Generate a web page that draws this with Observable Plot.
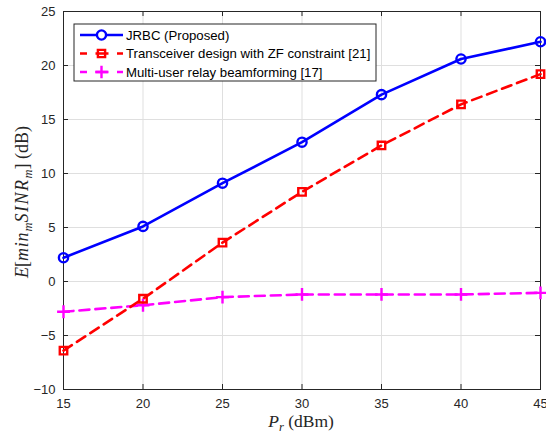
<!DOCTYPE html>
<html>
<head>
<meta charset="utf-8">
<script src="https://cdn.jsdelivr.net/npm/d3@7"></script>
<script src="https://cdn.jsdelivr.net/npm/@observablehq/plot@0.6"></script>
<style>
  html, body { margin: 0; padding: 0; background: #fff; }
  #chart svg { display: block; }
</style>
</head>
<body>
<div id="chart"></div>
<script>
const powers = [15, 20, 25, 30, 35, 40, 45];
const jrbc = [2.2, 5.1, 9.1, 12.9, 17.3, 20.6, 22.2];
const zfDesign = [-6.4, -1.6, 3.6, 8.3, 12.6, 16.4, 19.2];
const relayBf = [-2.8, -2.2, -1.45, -1.2, -1.2, -1.2, -1.05];
const xTicks = [15, 20, 25, 30, 35, 40, 45];
const yTicks = [-10, -5, 0, 5, 10, 15, 20, 25];
const seriesNames = ["JRBC (Proposed)", "Transceiver design with ZF constraint [21]", "Multi-user relay beamforming [17]"];
const seriesColors = ["#0000ff", "#ff0000", "#ff00ff"];

const toRows = (vals, name) => powers.map((p, i) => ({p, v: vals[i], name}));
const rowsA = toRows(jrbc, seriesNames[0]);
const rowsB = toRows(zfDesign, seriesNames[1]);
const rowsC = toRows(relayBf, seriesNames[2]);

const W = 546, H = 432, mL = 63, mR = 6, mT = 11, mB = 43;
const innerW = W - mL - mR, innerH = H - mT - mB, tk = 5;
const tickColor = "#262626";
const font = "Liberation Sans, Arial, Helvetica, sans-serif";

const chart = Plot.plot({
  width: W,
  height: H,
  marginLeft: mL,
  marginRight: mR,
  marginTop: mT,
  marginBottom: mB,
  style: {fontFamily: font, fontSize: "13px", color: tickColor, background: "#fff"},
  x: {domain: [15, 45], ticks: xTicks},
  y: {domain: [-10, 25], ticks: yTicks},
  marks: [
    Plot.gridX(xTicks, {stroke: "#dfdfdf", strokeOpacity: 1, strokeWidth: 1}),
    Plot.gridY(yTicks, {stroke: "#dfdfdf", strokeOpacity: 1, strokeWidth: 1}),
    Plot.axisX(xTicks, {anchor: "bottom", tickSize: 0, tickPadding: 9, label: null, fontSize: 13, fill: tickColor}),
    Plot.axisY(yTicks, {anchor: "left", tickSize: 0, tickPadding: 8, label: null, fontSize: 13, fill: tickColor}),
    Plot.tickX(xTicks, {x: d => d, insetTop: innerH - tk, stroke: tickColor}),
    Plot.tickX(xTicks, {x: d => d, insetBottom: innerH - tk, stroke: tickColor}),
    Plot.tickY(yTicks, {y: d => d, insetRight: innerW - tk, stroke: tickColor}),
    Plot.tickY(yTicks, {y: d => d, insetLeft: innerW - tk, stroke: tickColor}),
    Plot.frame({stroke: tickColor, strokeWidth: 1}),
    Plot.line(rowsC, {x: "p", y: "v", stroke: seriesColors[2], strokeWidth: 2.6, strokeDasharray: "10,6"}),
    Plot.line(rowsB, {x: "p", y: "v", stroke: seriesColors[1], strokeWidth: 2.6, strokeDasharray: "10,6"}),
    Plot.line(rowsA, {x: "p", y: "v", stroke: seriesColors[0], strokeWidth: 2.6}),
    Plot.dot(rowsC, {x: "p", y: "v", symbol: "plus", r: 4.2, stroke: seriesColors[2], strokeWidth: 2.4}),
    Plot.dot(rowsB, {x: "p", y: "v", symbol: "square", r: 4.2, stroke: seriesColors[1], fill: "none", strokeWidth: 2.4}),
    Plot.dot(rowsA, {x: "p", y: "v", symbol: "circle", r: 4.6, stroke: seriesColors[0], fill: "none", strokeWidth: 2.4})
  ]
});

document.getElementById("chart").appendChild(chart);

// Axis titles and legend (added to the SVG)
const svg = d3.select(chart);
const serifFont = "'Liberation Serif', 'DejaVu Serif', serif";

// x label: P_r (dBm)
const xl = svg.append("text")
  .attr("x", 301).attr("y", 427)
  .attr("text-anchor", "middle")
  .attr("font-family", serifFont)
  .attr("font-size", 17.5).attr("fill", tickColor);
xl.append("tspan").attr("font-style", "italic").text("P");
xl.append("tspan").attr("font-style", "italic").attr("font-size", 12.5).attr("dy", 3.5).text("r");
xl.append("tspan").attr("dy", -3.5).text(" (dBm)");

// y label: E[min_m SINR_m] (dB)
const yl = svg.append("text")
  .attr("transform", "translate(28,202) rotate(-90)")
  .attr("text-anchor", "middle")
  .attr("font-family", serifFont)
  .attr("font-size", 18).attr("fill", tickColor);
yl.append("tspan").attr("font-style", "italic").text("E");
yl.append("tspan").text("[");
yl.append("tspan").attr("font-style", "italic").attr("letter-spacing", 0.8).text("min");
yl.append("tspan").attr("font-style", "italic").attr("font-size", 12.5).attr("dy", 3.5).text("m");
yl.append("tspan").attr("font-style", "italic").attr("letter-spacing", 1.5).attr("dy", -3.5).text("SINR");
yl.append("tspan").attr("font-style", "italic").attr("font-size", 12.5).attr("dy", 3.5).text("m");
yl.append("tspan").attr("dy", -3.5).text("] (dB)");

// Legend
const lg = svg.append("g").attr("transform", "translate(74,24)");
lg.append("rect").attr("width", 302).attr("height", 57)
  .attr("fill", "#fff").attr("stroke", "#262626").attr("stroke-width", 1);
const syms = [d3.symbolCircle, d3.symbolSquare, d3.symbolPlus];
seriesNames.forEach((name, i) => {
  const y = 11 + i * 18.5;
  const row = lg.append("g").attr("transform", `translate(0,${y})`);
  row.append("line").attr("x1", 6).attr("x2", 49).attr("y1", 0).attr("y2", 0)
    .attr("stroke", seriesColors[i]).attr("stroke-width", 2.6)
    .attr("stroke-dasharray", i === 0 ? null : "7,8.5,13,8.5,7");
  const size = i === 0 ? 66 : 52;
  row.append("path").attr("d", d3.symbol(syms[i], size)())
    .attr("transform", "translate(27.5,0)")
    .attr("fill", i === 2 ? seriesColors[i] : (i === 1 ? "none" : "#fff"))
    .attr("stroke", seriesColors[i]).attr("stroke-width", 2.4);
  row.append("text").attr("x", 52).attr("y", 0).attr("dy", "0.35em")
    .attr("text-anchor", "start")
    .attr("font-family", font).attr("font-size", 13.2).attr("fill", "#000")
    .text(name);
});
</script>
</body>
</html>
